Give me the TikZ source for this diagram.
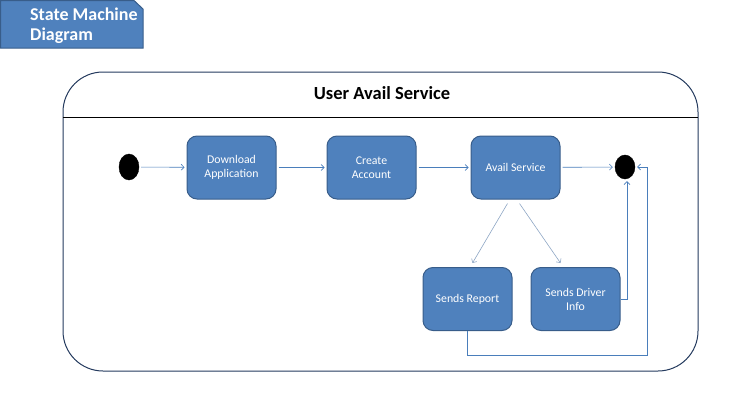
\documentclass[tikz,border=0pt]{standalone}
\usepackage{fontspec}
\setmainfont{Carlito}
\usetikzlibrary{arrows.meta,shapes.geometric}
\definecolor{boxfill}{HTML}{4F81BD}
\definecolor{boxline}{HTML}{385D8A}
\definecolor{arrowc}{HTML}{4A7EBB}
\definecolor{arrowlight}{HTML}{8EA6C4}
\definecolor{framec}{HTML}{243A5E}
\begin{document}
\begin{tikzpicture}[x=1pt,y=-1pt,
  state/.style={draw=boxline, line width=1pt, fill=boxfill, rounded corners=10pt,
    minimum width=89pt, minimum height=63pt, text=white, inner sep=2pt,
    font=\fontsize{11.8}{14}\selectfont, align=center},
  blackdot/.style={ellipse, fill=black, draw=black, inner sep=0pt},
  flow/.style={draw=arrowc, line width=0.6pt, -{Straight Barb[length=3pt,width=6pt]}, shorten >=2pt, shorten <=2pt},
  flowlight/.style={draw=arrowlight, line width=0.6pt, -{Straight Barb[length=3pt,width=6pt]}},
  ]
\useasboundingbox (0,0) rectangle (742,407);
% title tab
\draw[fill=boxfill, draw=boxline, line width=1pt] (0.5,0.5) -- (134,0.5) -- (143,9) -- (143,48) -- (0.5,48) -- cycle;
\node[anchor=west, text=white, font=\bfseries\fontsize{18}{20}\selectfont, align=left, inner sep=0pt] (title) at (30,26) {State Machine\\Diagram};
% frame
\draw[draw=framec, line width=1pt, rounded corners=40pt] (63,72) rectangle (698,371);
\coordinate (sepl) at (63,117);
\coordinate (sepr) at (698,117);
\draw[black, line width=0.8pt] (sepl) -- (sepr);
\node[font=\bfseries\fontsize{18.5}{22}\selectfont, inner sep=0pt] (ftitle) at (382,93) {User Avail Service};
% states
\node[blackdot, minimum width=20pt, minimum height=26pt] (init) at (129,167) {};
\node[state] (dl) at (231.5,167.5) {Download\\Application};
\node[state] (ca) at (371.5,167.5) {Create\\Account};
\node[state] (av) at (515.5,167.5) {Avail Service};
\node[blackdot, minimum width=20pt, minimum height=24pt] (fin) at (625,167) {};
\node[state] (rep) at (467.5,299) {Sends Report};
\node[state] (drv) at (575.5,299) {Sends Driver\\Info};
% transitions
\draw[flow] (init) -- (dl);
\draw[flow] (dl) -- (ca);
\draw[flow] (ca) -- (av);
\draw[flow] (av) -- (fin);
\draw[flowlight] ([xshift=-8pt,yshift=-4pt]av.south) -- ([xshift=5pt,yshift=4pt]rep.north);
\draw[flowlight] ([xshift=4pt,yshift=-4pt]av.south) -- ([xshift=-15pt,yshift=4pt]drv.north);
\draw[flow, shorten <=0pt] (drv.east) -| ([xshift=2pt]fin.south);
\coordinate (rc) at (647,355);
\draw[flow, shorten <=0pt] (rep.south) |- (rc) |- (fin.east);
\end{tikzpicture}
\end{document}
